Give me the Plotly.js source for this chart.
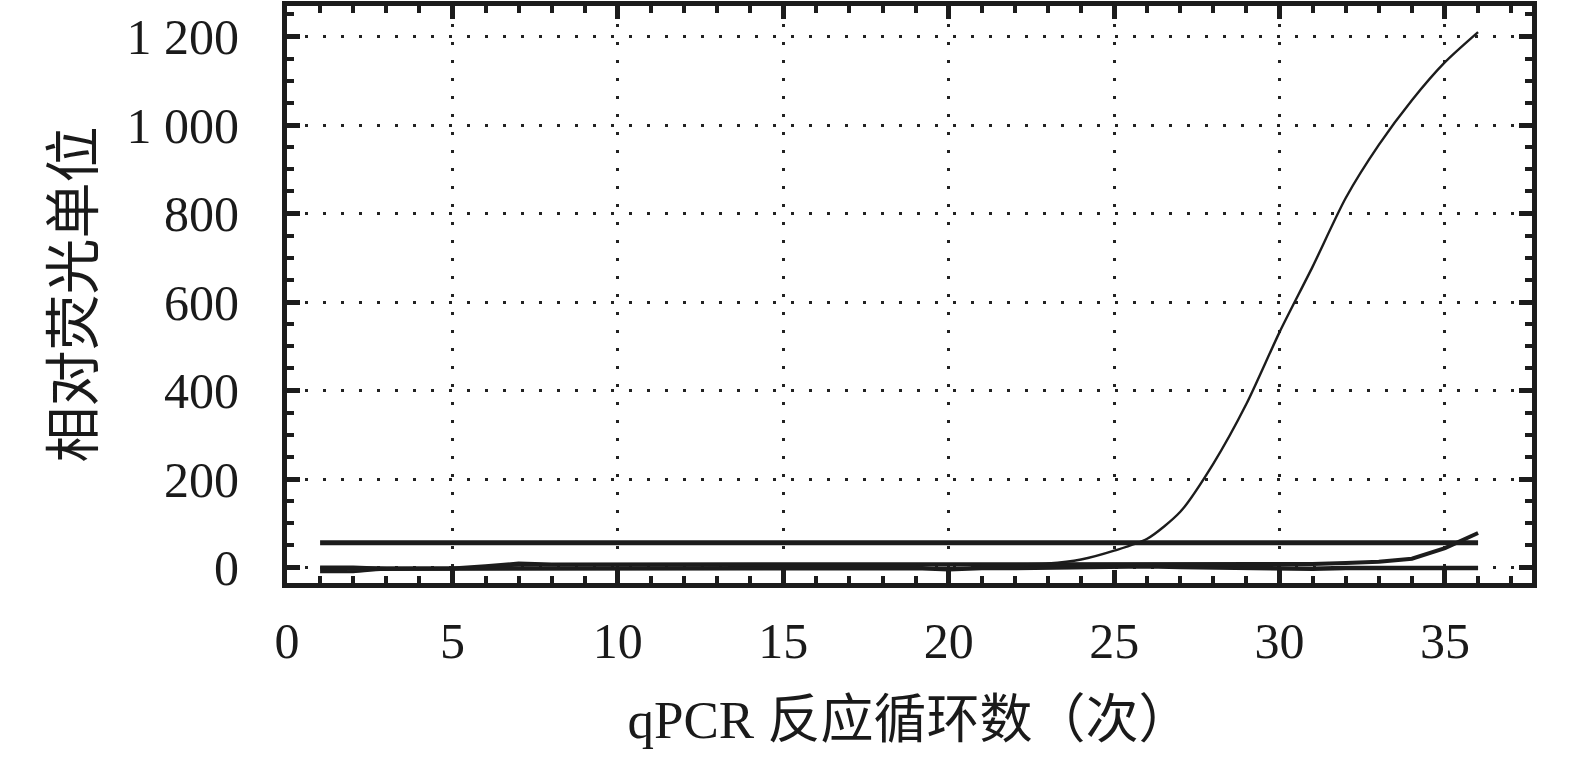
<!DOCTYPE html>
<html>
<head>
<meta charset="utf-8">
<script src="https://cdn.plot.ly/plotly-3.0.1.min.js"></script>
<style>html,body{margin:0;padding:0;background:#fff;}#chart{width:1575px;height:764px;}</style>
</head>
<body>
<div id="chart"></div>
<script>
// qPCR cycles
const cycles = [1,2,3,4,5,6,7,8,9,10,11,12,13,14,15,16,17,18,19,20,21,22,23,24,25,26,27,28,29,30,31,32,33,34,35,36];
// amplifying sample
const sampleA = [-10,-10,-4,-3,-2,-1,5,6,7,7,7,7,7,7,7,7,7,7,7,5,7,7,9,18,38,65,126,235,370,532,680,835,955,1056,1142,1210];
// late-rising sample
const sampleB = [0,0,-3,-3,-2,3,9,7,7,7,7,7,7,7,7,7,7,7,7,7,7,7,7,7,7,7,7,7,7,7,8,10,13,20,44,78];
// flat sample
const sampleC = [-3,-3,-3,-3,-2,-2,-1,-1,-1,-1,-1,-1,-1,-1,-1,-1,-1,-1,-1,-4,-1,-1,0,1,2,3,1,0,-1,-2,-3,-1,-1,-1,-1,-1];
// threshold line
const thresholdX = [1, 36];
const thresholdY = [56, 56];
// axis ticks
const xTickVals = [0,5,10,15,20,25,30,35];
const xTickText = ['0','5','10','15','20','25','30','35'];
const yTickVals = [0,200,400,600,800,1000,1200];
const yTickText = ['0','200','400','600','800','1 000','1 200'];
const xTitle = 'qPCR 反应循环数（次）';
const yTitle = '相对荧光单位';

const ink = '#1c1c1c';
const traces = [
  {x: cycles, y: sampleC, mode: 'lines', line: {color: ink, width: 4.5}},
  {x: cycles, y: sampleB, mode: 'lines', line: {color: ink, width: 4}},
  {x: thresholdX, y: thresholdY, mode: 'lines', line: {color: ink, width: 5}},
  {x: cycles, y: sampleA, mode: 'lines', line: {color: ink, width: 2.4, shape: 'spline', smoothing: 0.7}}
];

const tickFont = {family: 'Liberation Serif, "Noto Sans CJK SC", serif', size: 50, color: '#1a1a1a'};
const xTitleFont = {family: 'Liberation Serif, "Noto Sans CJK SC", serif', size: 53, color: '#1a1a1a'};
const yTitleFont = {family: 'Liberation Serif, "Noto Sans CJK SC", serif', size: 56, color: '#1a1a1a'};

const layout = {
  width: 1575, height: 764,
  margin: {l: 287, r: 43, t: 6, b: 181, pad: 0},
  paper_bgcolor: '#fff', plot_bgcolor: '#fff',
  showlegend: false,
  xaxis: {
    range: [0, 37.63],
    tickmode: 'array', tickvals: xTickVals, ticktext: xTickText,
    ticks: 'inside', ticklen: 13, tickwidth: 5, tickcolor: ink,
    minor: {dtick: 1, tick0: 0, ticks: 'inside', ticklen: 7, tickwidth: 4, tickcolor: ink, showgrid: false},
    showline: true, linewidth: 5, linecolor: ink, mirror: 'allticks',
    showgrid: true, gridcolor: '#222', gridwidth: 3, griddash: '3px,15px',
    zeroline: false,
    tickfont: tickFont, ticklabelstandoff: 10,
    title: {text: xTitle, font: xTitleFont, standoff: 34},
    automargin: false
  },
  yaxis: {
    range: [-35, 1269],
    tickmode: 'array', tickvals: yTickVals, ticktext: yTickText,
    ticks: 'inside', ticklen: 13, tickwidth: 5, tickcolor: ink,
    minor: {dtick: 50, tick0: 0, ticks: 'inside', ticklen: 7, tickwidth: 4, tickcolor: ink, showgrid: false},
    showline: true, linewidth: 5, linecolor: ink, mirror: 'allticks',
    showgrid: true, gridcolor: '#222', gridwidth: 3, griddash: '3px,15px',
    zeroline: false,
    tickfont: tickFont, ticklabelstandoff: 33,
    title: {text: yTitle, font: yTitleFont, standoff: 16},
    automargin: false
  }
};

Plotly.newPlot('chart', traces, layout, {staticPlot: true, displayModeBar: false});
</script>
</body>
</html>
